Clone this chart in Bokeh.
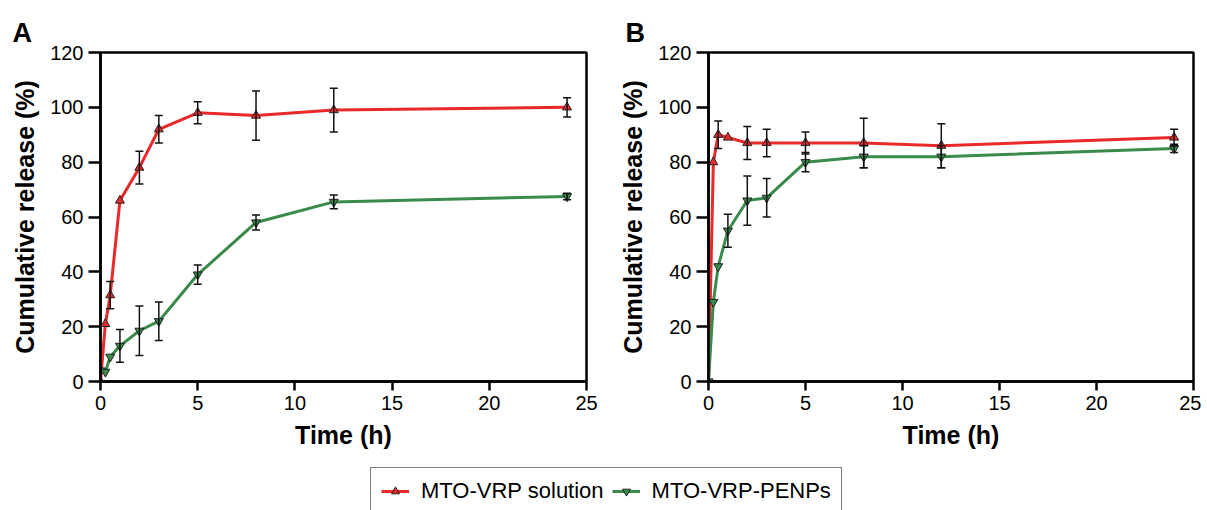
from bokeh.plotting import figure
from bokeh.models import (ColumnDataSource, Whisker, TeeHead, Title, Legend,
                          LegendItem, Range1d, FixedTicker)
from bokeh.layouts import column, row
from bokeh.embed import file_html
from bokeh.resources import INLINE

# ---------------- data ----------------
time_h = [0, 0.25, 0.5, 1, 2, 3, 5, 8, 12, 24]

sol_A = [0, 21, 31.5, 66, 78, 92, 98, 97, 99, 100]
sol_A_err = [0, 0, 5, 0, 6, 5, 4, 9, 8, 3.5]
np_A = [4, 3.5, 9, 13, 18.5, 22, 39, 58, 65.5, 67.5]
np_A_err = [0, 0, 0, 6, 9, 7, 3.5, 2.7, 2.5, 1.2]

sol_B = [0, 80, 90, 89, 87, 87, 87, 87, 86, 89]
sol_B_err = [0, 0, 5, 0, 6, 5, 4, 9, 8, 3]
np_B = [0, 29, 42, 55, 66, 67, 80, 82, 82, 85]
np_B_err = [0, 0, 0, 6, 9, 7, 3.5, 4, 4, 1.5]

x_ticks = [0, 5, 10, 15, 20, 25]
y_ticks = [0, 20, 40, 60, 80, 100, 120]
series_names = ["MTO-VRP solution", "MTO-VRP-PENPs"]

RED = "#ea2a2a"
GREEN = "#3a8a4c"
FONT = "Liberation Sans"


def add_series(p, t, v, err, color, marker):
    src = ColumnDataSource(dict(x=t, y=v))
    p.line("x", "y", source=src, line_color=color, line_width=3)
    p.scatter("x", "y", source=src, marker=marker, size=9, fill_color=color,
              line_color="#222222", line_width=1)
    ex = [a for a, e in zip(t, err) if e > 0]
    eu = [b + e for b, e in zip(v, err) if e > 0]
    el = [b - e for b, e in zip(v, err) if e > 0]
    esrc = ColumnDataSource(dict(x=ex, upper=eu, lower=el))
    w = Whisker(base="x", upper="upper", lower="lower", source=esrc,
                line_color="#111111", line_width=1.5, level="overlay",
                upper_head=TeeHead(size=8, line_color="#111111", line_width=1.5),
                lower_head=TeeHead(size=8, line_color="#111111", line_width=1.5))
    p.add_layout(w)


def make_panel(letter, sol, sol_err, npv, np_err, width, left, right, toff):
    p = figure(width=width, height=465, x_range=Range1d(0, 25),
               y_range=Range1d(0, 120), output_backend="svg",
               toolbar_location=None, min_border_left=left,
               min_border_right=right, min_border_top=52, min_border_bottom=84)
    p.title = Title(text=letter, align="left", offset=toff,
                    text_font=FONT, text_font_style="bold",
                    text_font_size="27px", text_color="black", standoff=10)
    p.grid.visible = False
    p.outline_line_color = "black"
    p.outline_line_width = 2.5
    p.xaxis.ticker = FixedTicker(ticks=x_ticks)
    p.yaxis.ticker = FixedTicker(ticks=y_ticks)
    p.axis.axis_line_width = 2.5
    p.axis.axis_line_color = "black"
    p.axis.major_tick_line_width = 2.5
    p.axis.major_tick_line_color = "black"
    p.axis.major_tick_in = 0
    p.xaxis.major_tick_out = 9
    p.yaxis.major_tick_out = 12
    p.axis.minor_tick_line_color = None
    p.axis.major_label_text_font = FONT
    p.axis.major_label_text_font_size = "20px"
    p.axis.major_label_text_color = "black"
    p.xaxis.major_label_standoff = 5
    p.yaxis.major_label_standoff = 5
    p.axis.axis_label_text_font = FONT
    p.axis.axis_label_text_font_style = "bold"
    p.axis.axis_label_text_font_size = "25px"
    p.axis.axis_label_text_color = "black"
    p.xaxis.axis_label = "Time (h)"
    p.yaxis.axis_label = "Cumulative release (%)"
    p.xaxis.axis_label_standoff = 8
    p.yaxis.axis_label_standoff = 8

    add_series(p, time_h, sol, sol_err, RED, "triangle")
    add_series(p, time_h, npv, np_err, GREEN, "inverted_triangle")
    return p


pA = make_panel("A", sol_A, sol_A_err, np_A, np_A_err, 608, 100, 22, -88)
pB = make_panel("B", sol_B, sol_B_err, np_B, np_B_err, 593, 100, 8, -83)

# legend strip
pl = figure(width=1201, height=45, x_range=Range1d(0, 1), y_range=Range1d(0, 1),
            output_backend="svg", toolbar_location=None, x_axis_location=None,
            y_axis_location=None, min_border=0)
pl.outline_line_color = None
pl.grid.visible = False
items = []
for name, color, marker in zip(series_names, [RED, GREEN],
                               ["triangle", "inverted_triangle"]):
    src = ColumnDataSource(dict(x=[-10, -9], y=[-10, -9]))
    r1 = pl.line("x", "y", source=src, line_color=color, line_width=3)
    r2 = pl.scatter("x", "y", source=src, marker=marker, size=8,
                    fill_color=color, line_color="#222222", line_width=1)
    items.append(LegendItem(label=name, renderers=[r1, r2]))
leg = Legend(items=items, orientation="horizontal", location=(370, -5),
             label_text_font=FONT, label_text_font_size="22px",
             label_text_color="black", glyph_width=28, glyph_height=20,
             label_standoff=12, spacing=8, padding=10, margin=0,
             border_line_color="black", border_line_width=1.2,
             background_fill_alpha=1)
pl.add_layout(leg, "center")

layout = column(row(pA, pB), pl, spacing=0)
open("out.html", "w").write(file_html(layout, INLINE))
